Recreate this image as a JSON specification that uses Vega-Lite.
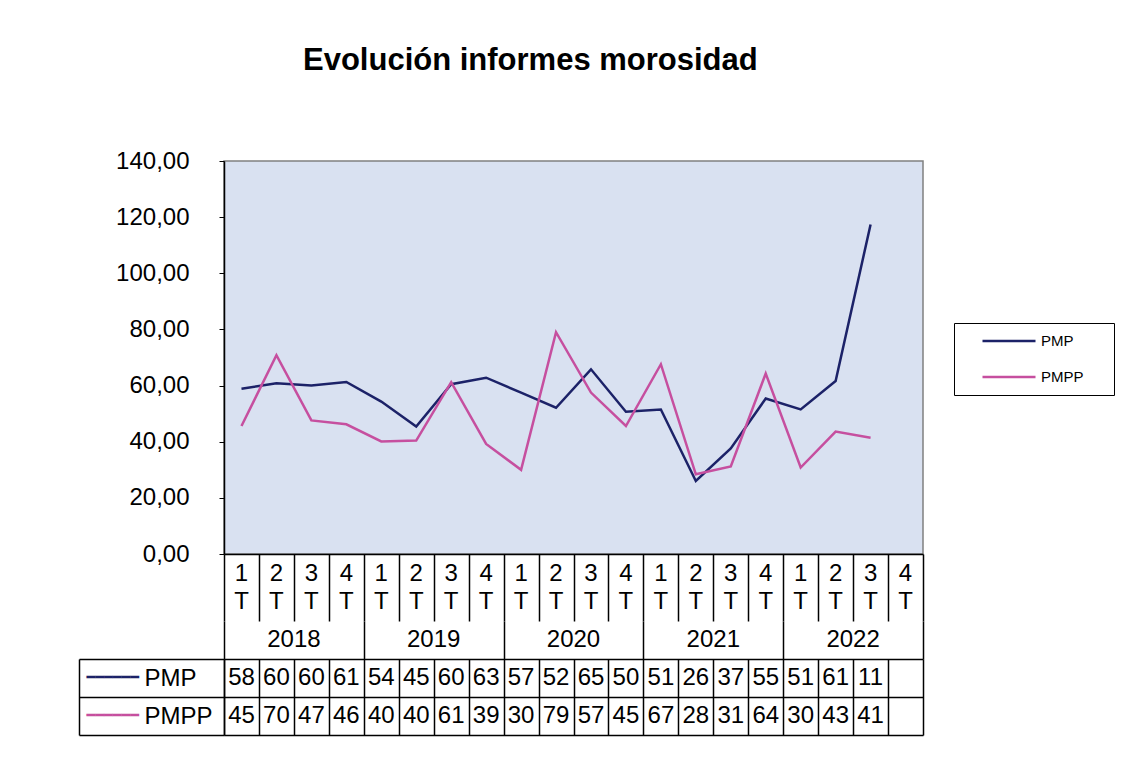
{
  "$schema": "https://vega.github.io/schema/vega-lite/v6.json",
  "background": "white",
  "padding": {"left": 78, "top": 45, "right": 20, "bottom": 10},
  "title": {"text": "Evolución informes morosidad", "font": "Liberation Sans", "fontSize": 31, "fontWeight": "bold", "color": "black", "anchor": "start", "frame": "group", "dx": 79, "offset": 71},
  "config": {
    "view": {"stroke": null},
    "font": "Liberation Sans",
    "axis": {"labelFont": "Liberation Sans", "labelColor": "black", "domainColor": "black", "tickColor": "black", "gridColor": "black", "gridOpacity": 1},
    "text": {"font": "Liberation Sans", "color": "black"}
  },
  "bounds": "flush",
  "spacing": 0,
  "datasets": {
    "datos": [
      {"periodo": "2018 1T", "trim": "1\nT", "serie": "PMP", "valor": 58.9, "tabla": "58"},
      {"periodo": "2018 2T", "trim": "2\nT", "serie": "PMP", "valor": 60.8, "tabla": "60"},
      {"periodo": "2018 3T", "trim": "3\nT", "serie": "PMP", "valor": 60.0, "tabla": "60"},
      {"periodo": "2018 4T", "trim": "4\nT", "serie": "PMP", "valor": 61.3, "tabla": "61"},
      {"periodo": "2019 1T", "trim": "1\nT", "serie": "PMP", "valor": 54.3, "tabla": "54"},
      {"periodo": "2019 2T", "trim": "2\nT", "serie": "PMP", "valor": 45.4, "tabla": "45"},
      {"periodo": "2019 3T", "trim": "3\nT", "serie": "PMP", "valor": 60.5, "tabla": "60"},
      {"periodo": "2019 4T", "trim": "4\nT", "serie": "PMP", "valor": 62.8, "tabla": "63"},
      {"periodo": "2020 1T", "trim": "1\nT", "serie": "PMP", "valor": 57.5, "tabla": "57"},
      {"periodo": "2020 2T", "trim": "2\nT", "serie": "PMP", "valor": 52.1, "tabla": "52"},
      {"periodo": "2020 3T", "trim": "3\nT", "serie": "PMP", "valor": 65.8, "tabla": "65"},
      {"periodo": "2020 4T", "trim": "4\nT", "serie": "PMP", "valor": 50.7, "tabla": "50"},
      {"periodo": "2021 1T", "trim": "1\nT", "serie": "PMP", "valor": 51.5, "tabla": "51"},
      {"periodo": "2021 2T", "trim": "2\nT", "serie": "PMP", "valor": 26.0, "tabla": "26"},
      {"periodo": "2021 3T", "trim": "3\nT", "serie": "PMP", "valor": 37.6, "tabla": "37"},
      {"periodo": "2021 4T", "trim": "4\nT", "serie": "PMP", "valor": 55.4, "tabla": "55"},
      {"periodo": "2022 1T", "trim": "1\nT", "serie": "PMP", "valor": 51.5, "tabla": "51"},
      {"periodo": "2022 2T", "trim": "2\nT", "serie": "PMP", "valor": 61.6, "tabla": "61"},
      {"periodo": "2022 3T", "trim": "3\nT", "serie": "PMP", "valor": 117.4, "tabla": "11"},
      {"periodo": "2022 4T", "trim": "4\nT", "serie": "PMP", "valor": null, "tabla": ""},
      {"periodo": "2018 1T", "trim": "1\nT", "serie": "PMPP", "valor": 45.6, "tabla": "45"},
      {"periodo": "2018 2T", "trim": "2\nT", "serie": "PMPP", "valor": 70.8, "tabla": "70"},
      {"periodo": "2018 3T", "trim": "3\nT", "serie": "PMPP", "valor": 47.6, "tabla": "47"},
      {"periodo": "2018 4T", "trim": "4\nT", "serie": "PMPP", "valor": 46.2, "tabla": "46"},
      {"periodo": "2019 1T", "trim": "1\nT", "serie": "PMPP", "valor": 40.1, "tabla": "40"},
      {"periodo": "2019 2T", "trim": "2\nT", "serie": "PMPP", "valor": 40.4, "tabla": "40"},
      {"periodo": "2019 3T", "trim": "3\nT", "serie": "PMPP", "valor": 61.2, "tabla": "61"},
      {"periodo": "2019 4T", "trim": "4\nT", "serie": "PMPP", "valor": 39.2, "tabla": "39"},
      {"periodo": "2020 1T", "trim": "1\nT", "serie": "PMPP", "valor": 30.0, "tabla": "30"},
      {"periodo": "2020 2T", "trim": "2\nT", "serie": "PMPP", "valor": 79.0, "tabla": "79"},
      {"periodo": "2020 3T", "trim": "3\nT", "serie": "PMPP", "valor": 57.5, "tabla": "57"},
      {"periodo": "2020 4T", "trim": "4\nT", "serie": "PMPP", "valor": 45.6, "tabla": "45"},
      {"periodo": "2021 1T", "trim": "1\nT", "serie": "PMPP", "valor": 67.6, "tabla": "67"},
      {"periodo": "2021 2T", "trim": "2\nT", "serie": "PMPP", "valor": 28.4, "tabla": "28"},
      {"periodo": "2021 3T", "trim": "3\nT", "serie": "PMPP", "valor": 31.2, "tabla": "31"},
      {"periodo": "2021 4T", "trim": "4\nT", "serie": "PMPP", "valor": 64.3, "tabla": "64"},
      {"periodo": "2022 1T", "trim": "1\nT", "serie": "PMPP", "valor": 30.8, "tabla": "30"},
      {"periodo": "2022 2T", "trim": "2\nT", "serie": "PMPP", "valor": 43.6, "tabla": "43"},
      {"periodo": "2022 3T", "trim": "3\nT", "serie": "PMPP", "valor": 41.4, "tabla": "41"},
      {"periodo": "2022 4T", "trim": "4\nT", "serie": "PMPP", "valor": null, "tabla": ""}
    ],
    "anios": [
      {"anio": "2018"}, {"anio": "2019"}, {"anio": "2020"}, {"anio": "2021"}, {"anio": "2022"}
    ]
  },
  "vconcat": [
    {
      "width": 699,
      "height": 393,
      "data": {"name": "datos"},
      "view": {"fill": "#d9e1f1", "stroke": "#808080", "strokeWidth": 1.5},
      "mark": {"type": "line", "strokeWidth": 2.5},
      "encoding": {
        "x": {"field": "periodo", "type": "ordinal", "sort": null, "scale": {"type": "point", "padding": 0.5},
              "axis": {"labels": false, "ticks": false, "title": null, "grid": false, "domainWidth": 1.5}},
        "y": {"field": "valor", "type": "quantitative", "scale": {"domain": [0, 140], "nice": false},
              "axis": {"values": [0, 20, 40, 60, 80, 100, 120, 140], "labelExpr": "replace(format(datum.value, '.2f'), '.', ',')",
                       "title": null, "grid": false, "tickSize": 5, "labelFontSize": 24, "labelPadding": 30, "domainWidth": 1.5}},
        "color": {"field": "serie", "type": "nominal",
                  "scale": {"domain": ["PMP", "PMPP"], "range": ["#1c2268", "#c64f9f"]},
                  "legend": {"orient": "none", "legendX": 730, "legendY": 162, "title": null, "symbolType": "stroke",
                             "symbolSize": 2809, "symbolStrokeWidth": 2.5, "labelFontSize": 15, "labelFont": "Liberation Sans",
                             "labelColor": "black", "labelOffset": 4, "strokeColor": "black", "fillColor": "white",
                             "padding": 8, "clipHeight": 20, "rowPadding": 16, "symbolOffset": 19,
                             "labelExpr": "datum.label + '\u2800\u2800'"}}
      }
    },
    {
      "width": 699,
      "height": 67,
      "data": {"name": "datos"},
      "transform": [{"filter": "datum.serie == 'PMP'"}],
      "mark": {"type": "text", "fontSize": 24, "lineBreak": "\n", "lineHeight": 28, "dy": -14},
      "encoding": {
        "x": {"field": "periodo", "type": "ordinal", "sort": null, "scale": {"type": "band", "paddingInner": 0, "paddingOuter": 0},
              "axis": {"labels": false, "ticks": false, "domain": false, "grid": true, "tickBand": "extent", "gridWidth": 1.5, "title": null}},
        "text": {"field": "trim"}
      }
    },
    {
      "width": 699,
      "height": 38,
      "data": {"name": "anios"},
      "mark": {"type": "text", "fontSize": 24},
      "encoding": {
        "x": {"field": "anio", "type": "ordinal", "scale": {"type": "band", "paddingInner": 0, "paddingOuter": 0},
              "axis": {"labels": false, "ticks": false, "domain": false, "grid": true, "tickBand": "extent", "gridWidth": 1.5, "title": null}},
        "text": {"field": "anio"}
      }
    },
    {
      "width": 699,
      "height": 76,
      "data": {"name": "datos"},
      "layer": [
        {
          "mark": {"type": "text", "fontSize": 24},
          "encoding": {
            "x": {"field": "periodo", "type": "ordinal", "sort": null, "scale": {"type": "band", "paddingInner": 0, "paddingOuter": 0},
                  "axis": {"labels": false, "ticks": false, "domain": false, "grid": true, "tickBand": "extent", "gridWidth": 1.5, "title": null}},
            "y": {"field": "serie", "type": "nominal", "scale": {"type": "band", "domain": ["PMP", "PMPP"], "paddingInner": 0, "paddingOuter": 0},
                  "axis": {"orient": "left", "title": null, "grid": true, "gridWidth": 1.5, "tickBand": "extent", "tickSize": 145, "tickWidth": 1.5,
                           "domainWidth": 1.5, "labelAlign": "left", "labelPadding": -65, "labelFontSize": 24}},
            "text": {"field": "tabla"}
          }
        },
        {
          "transform": [{"filter": "false"}],
          "mark": {"type": "text", "fontSize": 24},
          "encoding": {
            "y": {"field": "serie", "type": "nominal", "scale": {"type": "band", "domain": ["PMP", "PMPP"], "paddingInner": 0, "paddingOuter": 0},
                  "axis": {"orient": "left", "offset": 145, "title": null, "grid": false, "ticks": false, "domainWidth": 1.5,
                           "labelAlign": "left", "labelPadding": -7, "labelFont": "DejaVu Sans Mono", "labelFontSize": 14.5,
                           "labelExpr": "'━━━━━━'",
                           "labelColor": {"condition": {"test": "datum.value == 'PMP'", "value": "#1c2268"}, "value": "#c64f9f"}}},
            "text": {"field": "tabla"}
          }
        }
      ],
      "resolve": {"scale": {"y": "independent"}, "axis": {"y": "independent"}}
    }
  ]
}
